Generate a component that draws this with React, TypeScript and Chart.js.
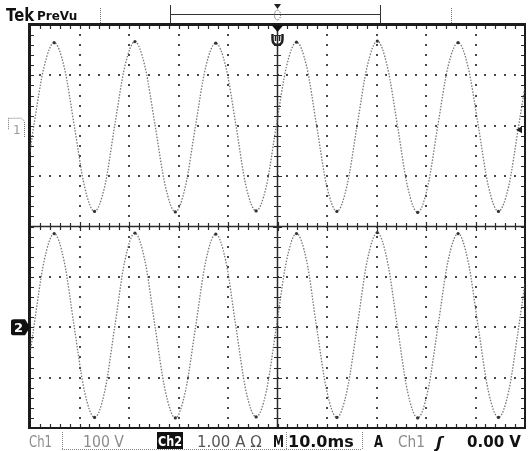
import React, { useEffect, useRef } from "react";
import { Chart, registerables } from "chart.js";

Chart.register(...registerables);

// Time of each reading along the 10 ms/div sweep (0 … 100 ms)
const timeMs = [
  0, 0.8, 2.84, 4.88, 6.92, 8.96, 11.0, 13.04, 15.08, 17.12, 19.16, 21.2, 23.24,
  25.28, 27.32, 29.36, 31.4, 33.44, 35.48, 37.52, 39.56, 41.6, 43.64, 45.68,
  47.72, 49.76, 51.8, 53.84, 55.88, 57.92, 59.96, 62.0, 64.04, 66.08, 68.12,
  70.16, 72.2, 74.24, 76.28, 78.32, 80.36, 82.4, 84.44, 86.48, 88.52, 90.56,
  92.6, 94.64, 96.68, 98.72, 100,
];

// Ch1 voltage (V), 100 V/div
const ch1Volts = [
  -51, 2, 117, 165, 116, -1, -120, -170, -121, 1, 118, 167, 117, 0, -119, -171,
  -120, 0, 116, 164, 117, 1, -120, -169, -121, 0, 117, 166, 118, -1, -120, -170,
  -119, 0, 118, 168, 117, 0, -121, -172, -120, 1, 117, 165, 116, 0, -120, -170,
  -121, 0, 78,
];

// Ch2 current (A), 1.00 A/div
const ch2Amps = [
  -0.54, 0.02, 1.31, 1.86, 1.3, -0.01, -1.27, -1.79, -1.28, 0.01, 1.32, 1.87,
  1.31, 0, -1.26, -1.8, -1.27, 0, 1.3, 1.85, 1.31, 0.01, -1.27, -1.78, -1.28, 0,
  1.31, 1.86, 1.32, -0.01, -1.27, -1.79, -1.26, 0, 1.32, 1.88, 1.31, 0, -1.28,
  -1.8, -1.27, 0.01, 1.31, 1.86, 1.3, 0, -1.27, -1.79, -1.28, 0, 0.87,
];

// Screen ranges (10 horizontal divisions, 8 vertical divisions)
const sweepMs = [0, 100];
const ch1RangeV = [-600, 200];
const ch2RangeA = [-2, 6];

const topLabels = ["Tek", "PreVu"];
const bottomLabels = ["Ch1", "100 V", "Ch2", "1.00 A Ω", "M", "10.0ms", "A", "Ch1", "ʃ", "0.00 V"];

const FONT = '"DejaVu Sans", sans-serif';

function dot(ctx: CanvasRenderingContext2D, x: number, y: number, s = 2) {
  ctx.fillRect(Math.round(x - s / 2), Math.round(y - s / 2), s, s);
}

const graticulePlugin = {
  id: "graticule",
  beforeDatasetsDraw(chart: any) {
    const ctx: CanvasRenderingContext2D = chart.ctx;
    const xs = chart.scales.x;
    const ys = chart.scales.y1;
    const { left, right, top, bottom } = chart.chartArea;
    const xDiv = (sweepMs[1] - sweepMs[0]) / 10;
    const yDiv = (ch1RangeV[1] - ch1RangeV[0]) / 8;
    ctx.save();
    ctx.fillStyle = "#4a4a4a";
    for (let k = 1; k < 10; k++) {
      if (k === 5) continue;
      const px = xs.getPixelForValue(sweepMs[0] + k * xDiv);
      for (let m = 1; m < 40; m++) {
        const py = ys.getPixelForValue(ch1RangeV[0] + (m * yDiv) / 5);
        dot(ctx, px, py, 2);
      }
    }
    for (let k = 1; k < 8; k++) {
      if (k === 4) continue;
      const py = ys.getPixelForValue(ch1RangeV[0] + k * yDiv);
      for (let m = 1; m < 50; m++) {
        const px = xs.getPixelForValue(sweepMs[0] + (m * xDiv) / 5);
        dot(ctx, px, py, 2);
      }
    }
    const cx = xs.getPixelForValue(sweepMs[0] + 5 * xDiv);
    const cy = ys.getPixelForValue(ch1RangeV[0] + 4 * yDiv);
    ctx.strokeStyle = "#2a2a2a";
    ctx.lineWidth = 1.5;
    ctx.beginPath();
    ctx.moveTo(left, cy);
    ctx.lineTo(right, cy);
    ctx.moveTo(cx, top);
    ctx.lineTo(cx, bottom);
    ctx.stroke();
    ctx.lineWidth = 1.2;
    ctx.beginPath();
    for (let m = 1; m < 50; m++) {
      const px = Math.round(xs.getPixelForValue(sweepMs[0] + (m * xDiv) / 5)) + 0.5;
      const len = m % 5 === 0 ? 4.5 : 3.5;
      ctx.moveTo(px, cy - len);
      ctx.lineTo(px, cy + len);
      ctx.moveTo(px, top);
      ctx.lineTo(px, top + 4);
      ctx.moveTo(px, bottom);
      ctx.lineTo(px, bottom - 4);
    }
    for (let m = 1; m < 40; m++) {
      const py = Math.round(ys.getPixelForValue(ch1RangeV[0] + (m * yDiv) / 5)) + 0.5;
      const len = m % 5 === 0 ? 4.5 : 3.5;
      ctx.moveTo(cx - len, py);
      ctx.lineTo(cx + len, py);
      ctx.moveTo(left, py);
      ctx.lineTo(left + 4, py);
      ctx.moveTo(right, py);
      ctx.lineTo(right - 4, py);
    }
    ctx.stroke();
    ctx.strokeStyle = "#1c1c1c";
    ctx.lineWidth = 2;
    ctx.strokeRect(left, top, right - left, bottom - top);
    ctx.fillStyle = "#1c1c1c";
    ctx.fillRect(left - 2, top - 2, 3, bottom - top + 3);
    ctx.fillRect(left - 2, top - 2, right - left + 3, 3);
    ctx.restore();
  },
};

const overlayPlugin = {
  id: "overlay",
  afterDraw(chart: any) {
    const ctx: CanvasRenderingContext2D = chart.ctx;
    const y1 = chart.scales.y1;
    const y2 = chart.scales.y2;
    const xs = chart.scales.x;
    const { right, top } = chart.chartArea;
    ctx.save();
    ctx.textBaseline = "alphabetic";
    ctx.textAlign = "left";

    ctx.fillStyle = "#111";
    ctx.font = `bold 18px ${FONT}`;
    ctx.fillText(topLabels[0], 6, 21, 28);
    ctx.font = `bold 12px ${FONT}`;
    ctx.fillText(topLabels[1], 37, 20, 51);

    ctx.fillStyle = "#777";
    for (let y = 8; y < 23; y += 2) {
      ctx.fillRect(100, y, 1, 1);
      ctx.fillRect(451, y, 1, 1);
    }
    ctx.strokeStyle = "#333";
    ctx.lineWidth = 1;
    ctx.beginPath();
    ctx.moveTo(170.5, 5);
    ctx.lineTo(170.5, 23);
    ctx.moveTo(380.5, 5);
    ctx.lineTo(380.5, 23);
    ctx.moveTo(170, 14.5);
    ctx.lineTo(381, 14.5);
    ctx.stroke();
    const tx = xs.getPixelForValue((sweepMs[0] + sweepMs[1]) / 2);
    ctx.fillStyle = "#222";
    ctx.beginPath();
    ctx.moveTo(tx - 3.5, 4);
    ctx.lineTo(tx + 3.5, 4);
    ctx.lineTo(tx, 9);
    ctx.closePath();
    ctx.fill();
    ctx.strokeStyle = "#444";
    ctx.setLineDash([1, 1]);
    ctx.beginPath();
    ctx.ellipse(tx, 15, 3, 5, 0, 0, Math.PI * 2);
    ctx.stroke();
    ctx.setLineDash([]);

    ctx.fillStyle = "#111";
    ctx.beginPath();
    ctx.moveTo(tx - 6, top);
    ctx.lineTo(tx + 6, top);
    ctx.lineTo(tx, top + 7);
    ctx.closePath();
    ctx.fill();
    ctx.strokeStyle = "#222";
    ctx.lineWidth = 2.5;
    ctx.beginPath();
    ctx.moveTo(tx - 5, top + 9);
    ctx.lineTo(tx - 5, top + 14);
    ctx.quadraticCurveTo(tx - 5, top + 20, tx, top + 20);
    ctx.quadraticCurveTo(tx + 5, top + 20, tx + 5, top + 14);
    ctx.lineTo(tx + 5, top + 9);
    ctx.stroke();
    ctx.lineWidth = 1.5;
    ctx.beginPath();
    ctx.moveTo(tx - 2, top + 11);
    ctx.lineTo(tx - 2, top + 16);
    ctx.moveTo(tx + 2, top + 11);
    ctx.lineTo(tx + 2, top + 16);
    ctx.stroke();

    // Ch1 ground marker (hollow tag)
    const g1 = y1.getPixelForValue(0);
    ctx.strokeStyle = "#777";
    ctx.lineWidth = 1;
    ctx.setLineDash([1, 1]);
    ctx.beginPath();
    ctx.moveTo(8.5, g1 - 7.5);
    ctx.lineTo(21.5, g1 - 7.5);
    ctx.lineTo(24.5, g1 - 4.5);
    ctx.lineTo(24.5, g1 + 11.5);
    ctx.moveTo(8.5, g1 - 7.5);
    ctx.lineTo(8.5, g1 + 4.5);
    ctx.stroke();
    ctx.setLineDash([]);
    ctx.fillStyle = "#999";
    ctx.font = `12px ${FONT}`;
    ctx.fillText("1", 13, g1 + 8);

    // Ch2 ground marker
    const g2 = y2.getPixelForValue(0);
    ctx.fillStyle = "#111";
    ctx.beginPath();
    ctx.moveTo(11, g2 - 6);
    ctx.quadraticCurveTo(11, g2 - 8, 14, g2 - 8);
    ctx.lineTo(25, g2 - 8);
    ctx.lineTo(30, g2);
    ctx.lineTo(25, g2 + 8);
    ctx.lineTo(14, g2 + 8);
    ctx.quadraticCurveTo(11, g2 + 8, 11, g2 + 6);
    ctx.closePath();
    ctx.fill();
    ctx.fillStyle = "#fff";
    ctx.font = `bold 13px ${FONT}`;
    ctx.fillText("2", 14, g2 + 5);

    const tl = y1.getPixelForValue(0) + 4;
    ctx.fillStyle = "#222";
    ctx.beginPath();
    ctx.moveTo(right - 9, tl);
    ctx.lineTo(right - 3, tl - 3.5);
    ctx.lineTo(right - 3, tl + 3.5);
    ctx.closePath();
    ctx.fill();

    const by = 447;
    ctx.fillStyle = "#888";
    for (let x = 62; x < 286; x += 2) ctx.fillRect(x, 449, 1, 1);
    for (let y = 432; y < 450; y += 2) {
      ctx.fillRect(62, y, 1, 1);
      ctx.fillRect(286, y, 1, 1);
      ctx.fillRect(362, y, 1, 1);
    }
    for (let x = 286; x < 362; x += 2) ctx.fillRect(x, 449, 1, 1);

    ctx.font = `15px ${FONT}`;
    ctx.fillStyle = "#8c8c8c";
    ctx.fillText(bottomLabels[0], 29, by, 23);
    ctx.fillText(bottomLabels[1], 83, by, 41);
    ctx.fillStyle = "#111";
    ctx.fillRect(157, 432, 26, 17);
    ctx.fillStyle = "#fff";
    ctx.font = `bold 14px ${FONT}`;
    ctx.fillText(bottomLabels[2], 158, by - 1, 24);
    ctx.fillStyle = "#555";
    ctx.font = `15px ${FONT}`;
    ctx.fillText(bottomLabels[3], 197, by, 72);
    ctx.fillStyle = "#111";
    ctx.font = `bold 16px ${FONT}`;
    ctx.fillText(bottomLabels[4], 273, by, 11);
    ctx.fillText(bottomLabels[5], 288, by, 70);
    ctx.fillText(bottomLabels[6], 374, by, 9);
    ctx.fillStyle = "#8c8c8c";
    ctx.font = `15px ${FONT}`;
    ctx.fillText(bottomLabels[7], 398, by, 27);
    ctx.fillStyle = "#111";
    ctx.font = `bold italic 16px ${FONT}`;
    ctx.fillText(bottomLabels[8], 436, by + 1, 10);
    ctx.font = `bold 16px ${FONT}`;
    ctx.fillText(bottomLabels[9], 467, by, 54);
    ctx.restore();
  },
};

function peakRadius(ctx: any) {
  const v = ctx.raw;
  const data = ctx.dataset.data as number[];
  const maxAbs = Math.max(...data.map((d) => Math.abs(d)));
  return typeof v === "number" && Math.abs(v) > 0.9 * maxAbs ? 1.6 : 0;
}

export default function App() {
  const canvasRef = useRef<HTMLCanvasElement | null>(null);

  useEffect(() => {
    if (!canvasRef.current) return;
    const chart = new Chart(canvasRef.current, {
      type: "line",
      data: {
        labels: timeMs,
        datasets: [
          {
            label: "Ch1",
            data: ch1Volts,
            yAxisID: "y1",
            borderColor: "rgba(95,95,95,0.85)",
            borderWidth: 1.3,
            borderDash: [1.5, 1.5],
            cubicInterpolationMode: "monotone",
            pointRadius: peakRadius,
            pointBackgroundColor: "#333",
            pointBorderWidth: 0,
          },
          {
            label: "Ch2",
            data: ch2Amps,
            yAxisID: "y2",
            borderColor: "rgba(95,95,95,0.85)",
            borderWidth: 1.3,
            borderDash: [1.5, 1.5],
            cubicInterpolationMode: "monotone",
            pointRadius: peakRadius,
            pointBackgroundColor: "#333",
            pointBorderWidth: 0,
          },
        ],
      },
      options: {
        responsive: false,
        animation: false,
        devicePixelRatio: 1,
        layout: { padding: { left: 30, right: 3, top: 25, bottom: 23 } },
        plugins: { legend: { display: false }, tooltip: { enabled: false } },
        scales: {
          x: { type: "linear", min: sweepMs[0], max: sweepMs[1], display: false },
          y1: { type: "linear", min: ch1RangeV[0], max: ch1RangeV[1], display: false },
          y2: { type: "linear", min: ch2RangeA[0], max: ch2RangeA[1], display: false },
        },
      },
      plugins: [graticulePlugin, overlayPlugin],
    } as any);
    return () => chart.destroy();
  }, []);

  return (
    <div style={{ position: "fixed", left: 0, top: 0, width: 528, height: 451, background: "#fff" }}>
      <canvas ref={canvasRef} width={528} height={451} style={{ display: "block" }} />
    </div>
  );
}
